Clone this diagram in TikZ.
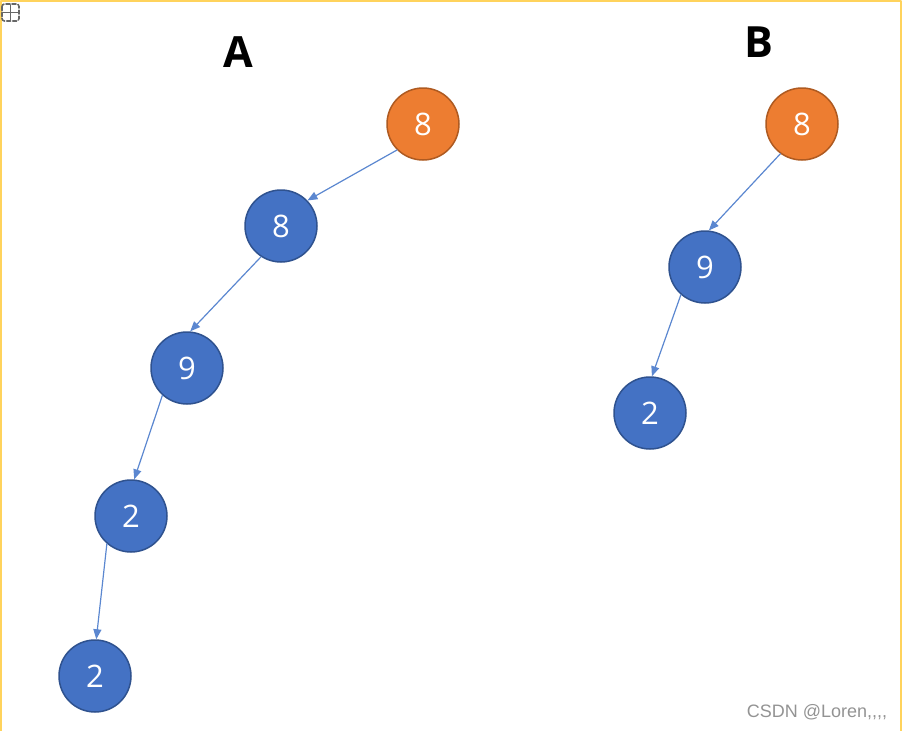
\documentclass[tikz,border=0pt]{standalone}
\usepackage{fontspec}
\setmainfont{Open Sans}
\newfontfamily\markfont{Liberation Sans}
\usetikzlibrary{arrows.meta}
\definecolor{nodeblue}{HTML}{4472C4}
\definecolor{blueedge}{HTML}{2F528F}
\definecolor{linkblue}{HTML}{5B87D0}
\definecolor{nodeorange}{HTML}{ED7D31}
\definecolor{orangeedge}{HTML}{AE5A21}
\definecolor{frameyellow}{HTML}{FFD35C}
\begin{document}
\begin{tikzpicture}[x=1pt, y=-1pt, line join=round, line cap=round, >={Triangle[length=10pt,width=8pt]},
	vert/.style={circle, draw=blueedge, fill=nodeblue, line width=1.5pt, minimum size=72pt, inner sep=0pt, text=white, font=\fontsize{31}{31}\selectfont},
	rootv/.style={vert, draw=orangeedge, fill=nodeorange},
	link/.style={->, draw=linkblue, line width=1.2pt}]
	\useasboundingbox (0,0) rectangle (903,731);
	\draw[frameyellow, line width=2.5pt] (1,731)--(1,1)--(901,1)--(901,731);
	\draw[gray!80!black, line width=1.6pt, dash pattern=on 4pt off 2pt, rounded corners=2.5pt] (2,4) rectangle (19,21);
	\draw[gray!80!black, line width=1.6pt] (10.5,5)--(10.5,20) (3,12.5)--(18,12.5);
	% titles
	\node[font=\fontsize{43}{43}\selectfont\bfseries] (ta) at (238,52) {A};
	\node[font=\fontsize{43}{43}\selectfont\bfseries] (tb) at (759,42) {B};
	% trees
	\node[rootv] (a0) at (423,124) {8};
	\node[rootv] (b0) at (802,124) {8};
	\foreach \n/\x/\y/\t in {a1/281/226/8, a2/187/368/9, a3/131/516/2, a4/95/676/2, b1/705/267/9, b2/650/413/2}
		\node[vert] (\n) at (\x,\y) {\t};
	\foreach \s/\e/\p/\q in {a0/a1/225/44, a1/a2/237/85, a2/a3/228/85, a3/a4/229/88, b0/b1/234/84, b1/b2/229/87}
		\draw[link] (\s.\p)--(\e.\q);
	\node[text=gray!85, font=\markfont\fontsize{18}{18}\selectfont] (mark) at (817,712) {CSDN @Loren,,,,};
\end{tikzpicture}
\end{document}
